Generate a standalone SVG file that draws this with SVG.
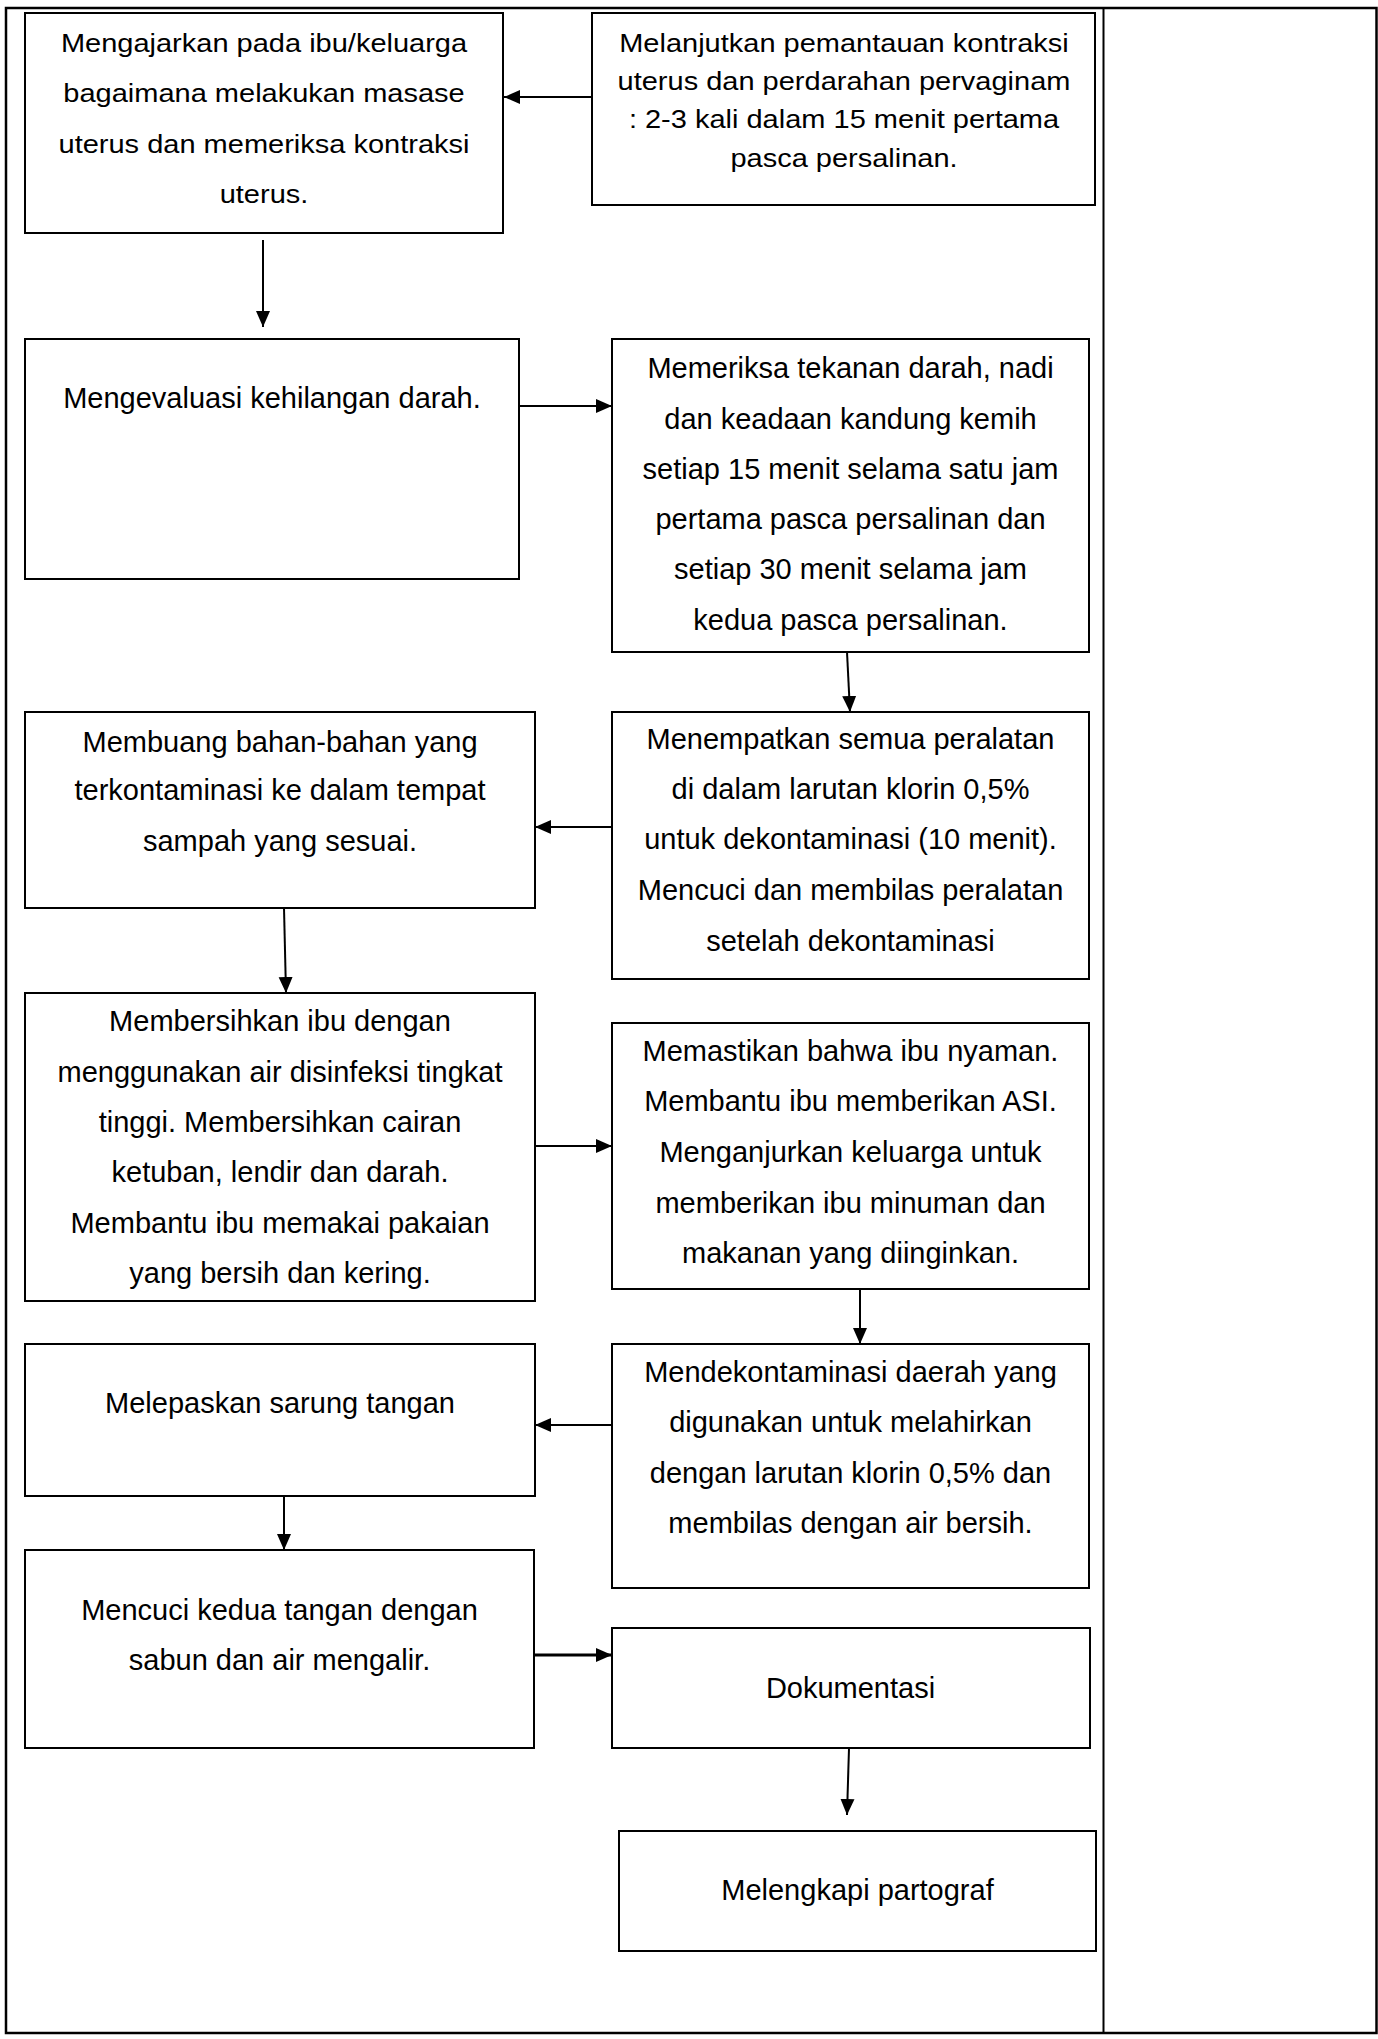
<svg xmlns="http://www.w3.org/2000/svg" width="1378" height="2039" viewBox="0 0 1378 2039">
<style>
.frame{fill:none;stroke:#000;stroke-width:2.5}
.div{stroke:#000;stroke-width:2}
.box{fill:#fff;stroke:#000;stroke-width:2}
.t{font-family:"Liberation Sans",Arial,sans-serif;font-size:29px;fill:#000;text-anchor:middle}
.c{stroke:#000;stroke-width:2;fill:none;marker-end:url(#ah)}
</style>
<defs>
<marker id="ah" markerUnits="userSpaceOnUse" markerWidth="16" markerHeight="16" viewBox="0 0 16 16" refX="16" refY="8" orient="auto">
<path d="M0,1 L16,8 L0,15 Z" fill="#000"/>
</marker>
</defs>
<rect width="1378" height="2039" fill="#fff"/>
<rect class="frame" x="6" y="8" width="1370.5" height="2025"/>
<line class="div" x1="1103.5" y1="8" x2="1103.5" y2="2033"/>

<g id="connectors">
<line class="c" x1="592" y1="97" x2="504" y2="97"/>
<line class="c" x1="263" y1="240" x2="263" y2="327"/>
<line class="c" x1="519" y1="406" x2="612" y2="406"/>
<line class="c" x1="847" y1="652" x2="850" y2="712"/>
<line class="c" x1="612" y1="827" x2="535" y2="827"/>
<line class="c" x1="284" y1="908" x2="286" y2="993"/>
<line class="c" x1="535" y1="1146" x2="612" y2="1146"/>
<line class="c" x1="860" y1="1289" x2="860" y2="1344"/>
<line class="c" x1="612" y1="1425" x2="535" y2="1425"/>
<line class="c" x1="284" y1="1496" x2="284" y2="1550"/>
<line class="c" x1="534" y1="1655" x2="612" y2="1655" style="stroke-width:3"/>
<line class="c" x1="849" y1="1748" x2="847" y2="1815"/>
</g>

<g id="n1">
<rect class="box" x="25" y="13" width="478" height="220"/>
<text class="t" transform="translate(264,51.5) scale(1,0.92)">Mengajarkan pada ibu/keluarga</text>
<text class="t" transform="translate(264,102) scale(1,0.92)">bagaimana melakukan masase</text>
<text class="t" transform="translate(264,153) scale(1,0.92)">uterus dan memeriksa kontraksi</text>
<text class="t" transform="translate(264,203) scale(1,0.92)">uterus.</text>
</g>

<g id="n2">
<rect class="box" x="592" y="13" width="503" height="192"/>
<text class="t" transform="translate(844,52) scale(1,0.9)">Melanjutkan pemantauan kontraksi</text>
<text class="t" transform="translate(844,90) scale(1,0.9)">uterus dan perdarahan pervaginam</text>
<text class="t" transform="translate(844,128) scale(1,0.9)">: 2-3 kali dalam 15 menit pertama</text>
<text class="t" transform="translate(844,167) scale(1,0.9)">pasca persalinan.</text>
</g>

<g id="n3">
<rect class="box" x="25" y="339" width="494" height="240"/>
<text class="t" x="272" y="408">Mengevaluasi kehilangan darah.</text>
</g>

<g id="n4">
<rect class="box" x="612" y="339" width="477" height="313"/>
<text class="t" x="850.5" y="378">Memeriksa tekanan darah, nadi</text>
<text class="t" x="850.5" y="429">dan keadaan kandung kemih</text>
<text class="t" x="850.5" y="479">setiap 15 menit selama satu jam</text>
<text class="t" x="850.5" y="529">pertama pasca persalinan dan</text>
<text class="t" x="850.5" y="579">setiap 30 menit selama jam</text>
<text class="t" x="850.5" y="630">kedua pasca persalinan.</text>
</g>

<g id="n5">
<rect class="box" x="612" y="712" width="477" height="267"/>
<text class="t" x="850.5" y="749">Menempatkan semua peralatan</text>
<text class="t" x="850.5" y="799">di dalam larutan klorin 0,5%</text>
<text class="t" x="850.5" y="849">untuk dekontaminasi (10 menit).</text>
<text class="t" x="850.5" y="900">Mencuci dan membilas peralatan</text>
<text class="t" x="850.5" y="951">setelah dekontaminasi</text>
</g>

<g id="n6">
<rect class="box" x="25" y="712" width="510" height="196"/>
<text class="t" x="280" y="752">Membuang bahan-bahan yang</text>
<text class="t" x="280" y="800">terkontaminasi ke dalam tempat</text>
<text class="t" x="280" y="851">sampah yang sesuai.</text>
</g>

<g id="n7">
<rect class="box" x="25" y="993" width="510" height="308"/>
<text class="t" x="280" y="1031">Membersihkan ibu dengan</text>
<text class="t" x="280" y="1082">menggunakan air disinfeksi tingkat</text>
<text class="t" x="280" y="1132">tinggi. Membersihkan cairan</text>
<text class="t" x="280" y="1182">ketuban, lendir dan darah.</text>
<text class="t" x="280" y="1233">Membantu ibu memakai pakaian</text>
<text class="t" x="280" y="1283">yang bersih dan kering.</text>
</g>

<g id="n8">
<rect class="box" x="612" y="1023" width="477" height="266"/>
<text class="t" x="850.5" y="1061">Memastikan bahwa ibu nyaman.</text>
<text class="t" x="850.5" y="1111">Membantu ibu memberikan ASI.</text>
<text class="t" x="850.5" y="1162">Menganjurkan keluarga untuk</text>
<text class="t" x="850.5" y="1213">memberikan ibu minuman dan</text>
<text class="t" x="850.5" y="1263">makanan yang diinginkan.</text>
</g>

<g id="n9">
<rect class="box" x="612" y="1344" width="477" height="244"/>
<text class="t" x="850.5" y="1382">Mendekontaminasi daerah yang</text>
<text class="t" x="850.5" y="1432">digunakan untuk melahirkan</text>
<text class="t" x="850.5" y="1483">dengan larutan klorin 0,5% dan</text>
<text class="t" x="850.5" y="1533">membilas dengan air bersih.</text>
</g>

<g id="n10">
<rect class="box" x="25" y="1344" width="510" height="152"/>
<text class="t" x="280" y="1413">Melepaskan sarung tangan</text>
</g>

<g id="n11">
<rect class="box" x="25" y="1550" width="509" height="198"/>
<text class="t" x="279.5" y="1620">Mencuci kedua tangan dengan</text>
<text class="t" x="279.5" y="1670">sabun dan air mengalir.</text>
</g>

<g id="n12">
<rect class="box" x="612" y="1628" width="478" height="120"/>
<text class="t" x="850.5" y="1698">Dokumentasi</text>
</g>

<g id="n13">
<rect class="box" x="619" y="1831" width="477" height="120"/>
<text class="t" x="857.5" y="1900">Melengkapi partograf</text>
</g>
</svg>
